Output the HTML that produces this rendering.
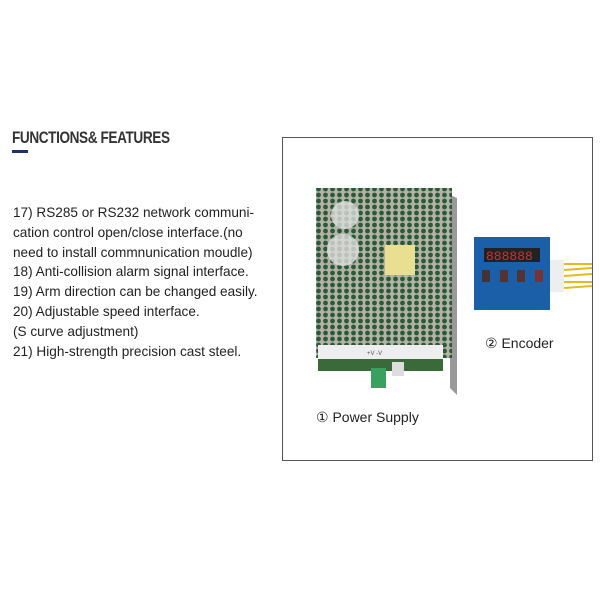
<!DOCTYPE html>
<html><head><style>
body{margin:0;width:600px;height:600px;background:#fff;position:relative;overflow:hidden;font-family:"Liberation Sans",sans-serif;}
.t{position:absolute;left:13px;font-size:13.6px;color:#222;white-space:nowrap;line-height:20px;}
</style></head><body>
<div style="position:absolute;left:12px;top:128px;font-size:17px;font-weight:bold;color:#333;letter-spacing:-0.5px;transform:scaleX(0.8);transform-origin:left;">FUNCTIONS&amp; FEATURES</div>
<div style="position:absolute;left:12px;top:150px;width:16px;height:3px;background:#1f2f6b"></div>
<div class="t" style="top:203px">17) RS285 or RS232 network communi-</div>
<div class="t" style="top:223px">cation control open/close interface.(no</div>
<div class="t" style="top:243px">need to install commnunication moudle)</div>
<div class="t" style="top:262px">18) Anti-collision alarm signal interface.</div>
<div class="t" style="top:282px">19) Arm direction can be changed easily.</div>
<div class="t" style="top:302px">20) Adjustable speed interface.</div>
<div class="t" style="top:322px">(S curve adjustment)</div>
<div class="t" style="top:342px">21) High-strength precision cast steel.</div>
<div style="position:absolute;left:282px;top:137px;width:309px;height:322px;border:1px solid #555;"></div>
<svg style="position:absolute;left:0;top:0" width="600" height="600">
<defs><pattern id="h" width="7" height="6" patternUnits="userSpaceOnUse"><rect width="7" height="6" fill="#b4b2a4"/><circle cx="3.5" cy="3" r="2.4" fill="#2a5a3a"/></pattern></defs>
<polygon points="450,195 457,198 457,395 450,388" fill="#999"/>
<rect x="316" y="188" width="136" height="170" fill="url(#h)"/>
<circle cx="345" cy="215" r="14" fill="#ddd" opacity=".8"/>
<circle cx="343" cy="250" r="16" fill="#ddd" opacity=".8"/>
<rect x="385" y="245" width="30" height="30" fill="#e8e090"/>
<rect x="318" y="345" width="125" height="14" fill="#eee"/>
<text x="367" y="355" font-size="6" fill="#555">+V  -V</text>
<rect x="318" y="359" width="125" height="12" fill="#3a6a3a"/>
<rect x="371" y="368" width="15" height="20" fill="#3aa060"/>
<rect x="392" y="362" width="12" height="14" fill="#ddd"/>
<rect x="474" y="237" width="76" height="73" fill="#1a5fa8"/>
<rect x="484" y="248" width="56" height="14" fill="#222"/>
<text x="486" y="260" font-size="13" fill="#d03030" font-family="Liberation Mono">888888</text>
<rect x="482" y="270" width="8" height="12" fill="#433"/><rect x="500" y="270" width="8" height="12" fill="#533"/><rect x="517" y="270" width="8" height="12" fill="#533"/><rect x="535" y="270" width="8" height="12" fill="#733"/>
<rect x="550" y="260" width="14" height="32" fill="#eee"/>
<g stroke="#e8b820" stroke-width="2"><line x1="564" y1="264" x2="592" y2="264"/><line x1="564" y1="270" x2="592" y2="268"/><line x1="564" y1="276" x2="592" y2="274"/><line x1="564" y1="282" x2="592" y2="282"/><line x1="564" y1="288" x2="592" y2="286"/></g>
</svg>
<div style="position:absolute;left:485px;top:335px;font-size:14px;color:#222">② Encoder</div>
<div style="position:absolute;left:316px;top:409px;font-size:14px;color:#222">① Power Supply</div>
</body></html>
